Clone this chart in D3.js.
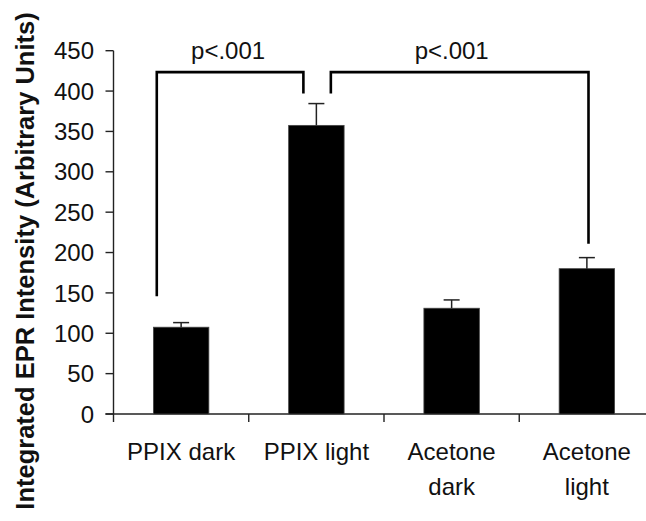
<!DOCTYPE html>
<html><head><meta charset="utf-8">
<script src="https://cdn.jsdelivr.net/npm/d3@7"></script>
<style>
html,body{margin:0;padding:0;background:#fff;}
svg{display:block;}
text{font-family:"Liberation Sans",Arial,sans-serif;fill:#111;}
</style></head>
<body>
<svg id="chart" width="646" height="521"></svg>
<script>
// ---- data ----
const categories = ["PPIX dark", "PPIX light", "Acetone dark", "Acetone light"];
const categoryLabelLines = [["PPIX dark"], ["PPIX light"], ["Acetone", "dark"], ["Acetone", "light"]];
const means = [107.5, 357.5, 131, 180];
const errors = [5.7, 27, 10.3, 13.7];
const yTicks = [0, 50, 100, 150, 200, 250, 300, 350, 400, 450];
const yTitle = "Integrated EPR Intensity (Arbitrary Units)";
// significance brackets: from/to category, top value, leg end values
const brackets = [
  {from: "PPIX dark", to: "PPIX light", top: 423.5, leftEnd: 146, rightEnd: 397, label: "p<.001"},
  {from: "PPIX light", to: "Acetone light", top: 423.5, leftEnd: 397, rightEnd: 211, label: "p<.001"}
];

// ---- layout ----
const svg = d3.select("#chart");
const x = d3.scaleBand().domain(categories).range([113.5, 654.5]).padding(0);
const y = d3.scaleLinear().domain([0, 450]).range([414, 50.7]);
const barW = x.bandwidth() * 0.41;
const cx = c => x(c) + x.bandwidth() / 2;
const axisColor = "#222";

// y axis
svg.append("line").attr("x1", x.range()[0]).attr("x2", x.range()[0])
  .attr("y1", y(0)).attr("y2", y(450)).attr("stroke", axisColor).attr("stroke-width", 1.4);
const yt = svg.append("g");
yTicks.forEach(t => {
  yt.append("line").attr("x1", x.range()[0] - 8).attr("x2", x.range()[0])
    .attr("y1", y(t)).attr("y2", y(t)).attr("stroke", axisColor).attr("stroke-width", 1.4);
  yt.append("text").attr("x", 94).attr("y", y(t)).attr("dy", "0.36em")
    .attr("text-anchor", "end").attr("font-size", 24).text(t);
});

// x axis
svg.append("line").attr("x1", x.range()[0] - 8).attr("x2", x.range()[1])
  .attr("y1", y(0)).attr("y2", y(0)).attr("stroke", axisColor).attr("stroke-width", 1.4);
const xb = categories.map(c => x(c)).concat([x.range()[1]]);
xb.forEach(b => {
  svg.append("line").attr("x1", b).attr("x2", b).attr("y1", y(0)).attr("y2", y(0) + 8)
    .attr("stroke", axisColor).attr("stroke-width", 1.4);
});
categories.forEach((c, i) => {
  const t = svg.append("text").attr("text-anchor", "middle").attr("font-size", 24);
  categoryLabelLines[i].forEach((ln, j) => {
    t.append("tspan").attr("x", cx(c)).attr("y", 460 + j * 35).text(ln);
  });
});

// bars
svg.selectAll("rect.bar").data(categories).join("rect").attr("class", "bar")
  .attr("x", c => cx(c) - barW / 2).attr("width", barW)
  .attr("y", (c, i) => y(means[i])).attr("height", (c, i) => y(0) - y(means[i]))
  .attr("fill", "#000").attr("stroke", "#444").attr("stroke-width", 0.8);

// error bars
categories.forEach((c, i) => {
  const top = y(means[i] + errors[i]);
  svg.append("line").attr("x1", cx(c)).attr("x2", cx(c)).attr("y1", y(means[i])).attr("y2", top)
    .attr("stroke", "#222").attr("stroke-width", 1.5);
  svg.append("line").attr("x1", cx(c) - 8).attr("x2", cx(c) + 8).attr("y1", top).attr("y2", top)
    .attr("stroke", "#222").attr("stroke-width", 1.5);
});

// brackets
const bw = x.bandwidth();
const bracketX = [
  [cx(brackets[0].from) - 0.18 * bw, cx(brackets[0].to) - 0.096 * bw],
  [cx(brackets[1].from) + 0.107 * bw, cx(brackets[1].to) + 0.012 * bw]
];
const labelShift = [-2, -8];
brackets.forEach((b, i) => {
  const [x1, x2] = bracketX[i];
  svg.append("path")
    .attr("d", `M${x1},${y(b.leftEnd)}V${y(b.top)}H${x2}V${y(b.rightEnd)}`)
    .attr("fill", "none").attr("stroke", "#000").attr("stroke-width", 2.6)
    .attr("stroke-linejoin", "miter");
  svg.append("text").attr("x", (x1 + x2) / 2 + labelShift[i]).attr("y", 59)
    .attr("text-anchor", "middle").attr("font-size", 24).text(b.label);
});

// y title
svg.append("text").attr("transform", `translate(34,261) rotate(-90)`)
  .attr("text-anchor", "middle").attr("font-size", 25.5).attr("font-weight", "bold")
  .text(yTitle);
</script>
</body></html>
